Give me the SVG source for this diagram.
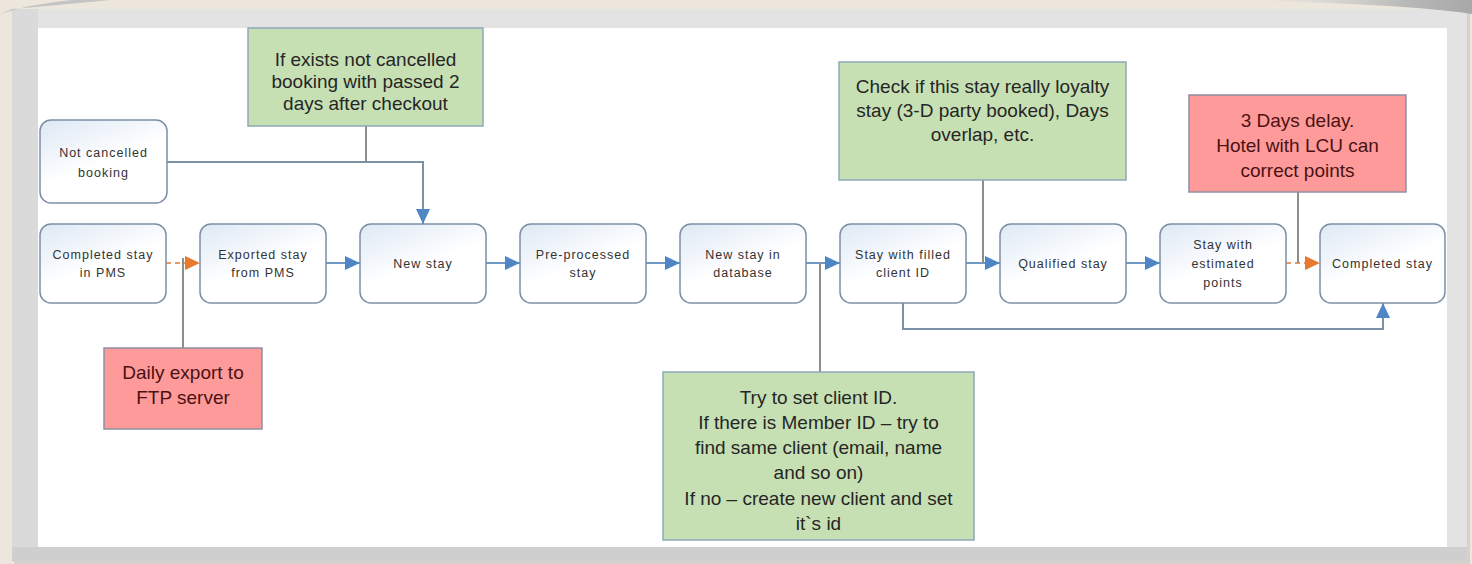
<svg xmlns="http://www.w3.org/2000/svg" width="1472" height="564" viewBox="0 0 1472 564">
  <style>
    .node rect { fill: url(#nodeGrad); stroke: #7d8ea6; stroke-width: 1.5; }
    .node text { font-family: "Liberation Sans", Arial, sans-serif; font-size: 12.5px; letter-spacing: 1px; fill: #333333; text-anchor: middle; }
    .note text { font-family: "Liberation Sans", Arial, sans-serif; font-size: 19px; text-anchor: middle; }
    .green rect { fill: #c6e0b4; stroke: #8ea9b9; stroke-width: 1.5; }
    .green text { fill: #262626; }
    .red rect { fill: #ff9a9a; stroke: #8f8fa3; stroke-width: 1.5; }
    .red text { fill: #4a1212; }
    .flow { fill: none; stroke: #6f98c6; stroke-width: 2; }
    .link { fill: none; stroke: #7c91a8; stroke-width: 2; }
    .note-line { fill: none; stroke: #8d8f86; stroke-width: 2; }
    .orange { fill: none; stroke: #e89a66; stroke-width: 2; stroke-dasharray: 5 4; }
  </style>
  <defs>
    <linearGradient id="nodeGrad" x1="0" y1="0" x2="0.6" y2="1">
      <stop offset="0" stop-color="#dde8f5"/>
      <stop offset="0.6" stop-color="#ffffff"/>
      <stop offset="1" stop-color="#ffffff"/>
    </linearGradient>
    <linearGradient id="curlR" x1="0" y1="0" x2="1" y2="0">
      <stop offset="0" stop-color="#d8d8d8" stop-opacity="0"/>
      <stop offset="0.7" stop-color="#b8b8b8"/>
      <stop offset="1" stop-color="#a8a8a8"/>
    </linearGradient>
    <marker id="arrBlue" markerUnits="userSpaceOnUse" markerWidth="16" markerHeight="15" refX="15" refY="7" orient="auto">
      <path d="M0,0 L15,7 L0,14 z" fill="#4f86c6"/>
    </marker>
    <marker id="arrOrange" markerUnits="userSpaceOnUse" markerWidth="16" markerHeight="15" refX="15" refY="7" orient="auto">
      <path d="M0,0 L15,7 L0,14 z" fill="#e8792e"/>
    </marker>
  </defs>

  <!-- background and frame -->
  <rect x="0" y="0" width="1472" height="564" fill="#ece6dd"/>
  <rect x="14" y="12" width="1456" height="552" fill="#bdbdbd" opacity="0.5"/>
  <rect x="12" y="9" width="1455" height="552" fill="#e3e3e3"/>
  <rect x="12" y="9" width="26" height="552" fill="#dadada"/>
  <rect x="12" y="547" width="1455" height="14" fill="#cfcfcf"/>
  <path d="M0,14 Q30,4 72,0 L110,0 Q50,6 12,9 Z" fill="#c4c4c4"/>
  <path d="M1250,0 L1472,0 L1472,14 Q1420,6 1300,2 Z" fill="url(#curlR)"/>
  <rect x="38" y="28" width="1409" height="519" fill="#ffffff"/>

  <!-- connectors -->
  <g id="connectors">
    <line class="orange" x1="166" y1="263" x2="200" y2="263" marker-end="url(#arrOrange)"/>
    <line class="note-line" x1="183" y1="348" x2="183" y2="258"/>
    <line class="flow" x1="326" y1="263" x2="360" y2="263" marker-end="url(#arrBlue)"/>
    <line class="flow" x1="486" y1="263" x2="520" y2="263" marker-end="url(#arrBlue)"/>
    <line class="flow" x1="646" y1="263" x2="680" y2="263" marker-end="url(#arrBlue)"/>
    <line class="flow" x1="806" y1="263" x2="840" y2="263" marker-end="url(#arrBlue)"/>
    <line class="note-line" x1="820" y1="372" x2="820" y2="263"/>
    <line class="flow" x1="966" y1="263" x2="1000" y2="263" marker-end="url(#arrBlue)"/>
    <line class="note-line" x1="983" y1="180" x2="983" y2="263"/>
    <line class="flow" x1="1126" y1="263" x2="1160" y2="263" marker-end="url(#arrBlue)"/>
    <line class="orange" x1="1286" y1="263" x2="1320" y2="263" marker-end="url(#arrOrange)"/>
    <line class="note-line" x1="1298" y1="192" x2="1298" y2="263"/>
    <polyline class="link" points="167,162 423,162 423,224" marker-end="url(#arrBlue)"/>
    <line class="note-line" x1="366" y1="126" x2="366" y2="162"/>
    <polyline class="link" points="903,303 903,329 1383,329 1383,303" marker-end="url(#arrBlue)"/>
  </g>

  <!-- process nodes -->
  <g id="not-cancelled-booking" class="node">
    <rect x="40" y="120" width="127" height="83" rx="11"/>
    <text x="103.5" y="157">Not cancelled</text>
    <text x="103.5" y="177">booking</text>
  </g>
  <g id="completed-stay-pms" class="node">
    <rect x="40" y="224" width="126" height="79" rx="11"/>
    <text x="103" y="259">Completed stay</text>
    <text x="103" y="277">in PMS</text>
  </g>
  <g id="exported-stay" class="node">
    <rect x="200" y="224" width="126" height="79" rx="11"/>
    <text x="263" y="259">Exported stay</text>
    <text x="263" y="277">from PMS</text>
  </g>
  <g id="new-stay" class="node">
    <rect x="360" y="224" width="126" height="79" rx="11"/>
    <text x="423" y="268">New stay</text>
  </g>
  <g id="pre-processed-stay" class="node">
    <rect x="520" y="224" width="126" height="79" rx="11"/>
    <text x="583" y="259">Pre-processed</text>
    <text x="583" y="277">stay</text>
  </g>
  <g id="new-stay-db" class="node">
    <rect x="680" y="224" width="126" height="79" rx="11"/>
    <text x="743" y="259">New stay in</text>
    <text x="743" y="277">database</text>
  </g>
  <g id="stay-filled-client" class="node">
    <rect x="840" y="224" width="126" height="79" rx="11"/>
    <text x="903" y="259">Stay with filled</text>
    <text x="903" y="277">client ID</text>
  </g>
  <g id="qualified-stay" class="node">
    <rect x="1000" y="224" width="126" height="79" rx="11"/>
    <text x="1063" y="268">Qualified stay</text>
  </g>
  <g id="stay-estimated-points" class="node">
    <rect x="1160" y="224" width="126" height="79" rx="11"/>
    <text x="1223" y="249">Stay with</text>
    <text x="1223" y="268">estimated</text>
    <text x="1223" y="287">points</text>
  </g>
  <g id="completed-stay" class="node">
    <rect x="1320" y="224" width="125" height="79" rx="11"/>
    <text x="1382.5" y="268">Completed stay</text>
  </g>

  <!-- annotation notes -->
  <g id="note-not-cancelled" class="note green">
    <rect x="248" y="28" width="235" height="98"/>
    <text x="365.5" y="66">If exists not cancelled</text>
    <text x="365.5" y="88">booking with passed 2</text>
    <text x="365.5" y="110">days after checkout</text>
  </g>
  <g id="note-daily-export" class="note red">
    <rect x="104" y="348" width="158" height="81"/>
    <text x="183" y="379">Daily export to</text>
    <text x="183" y="404">FTP server</text>
  </g>
  <g id="note-loyalty-check" class="note green">
    <rect x="839" y="62" width="287" height="118"/>
    <text x="982.5" y="93">Check if this stay really loyalty</text>
    <text x="982.5" y="117">stay (3-D party booked), Days</text>
    <text x="982.5" y="141">overlap, etc.</text>
  </g>
  <g id="note-delay" class="note red">
    <rect x="1189" y="95" width="217" height="97"/>
    <text x="1297.5" y="127">3 Days delay.</text>
    <text x="1297.5" y="152">Hotel with LCU can</text>
    <text x="1297.5" y="177">correct points</text>
  </g>
  <g id="note-client-id" class="note green">
    <rect x="663" y="372" width="311" height="168"/>
    <text x="818.5" y="404">Try to set client ID.</text>
    <text x="818.5" y="429">If there is  Member ID – try to</text>
    <text x="818.5" y="454">find same client (email, name</text>
    <text x="818.5" y="479">and so on)</text>
    <text x="818.5" y="505">If no – create new client and set</text>
    <text x="818.5" y="530">it`s id</text>
  </g>
</svg>
